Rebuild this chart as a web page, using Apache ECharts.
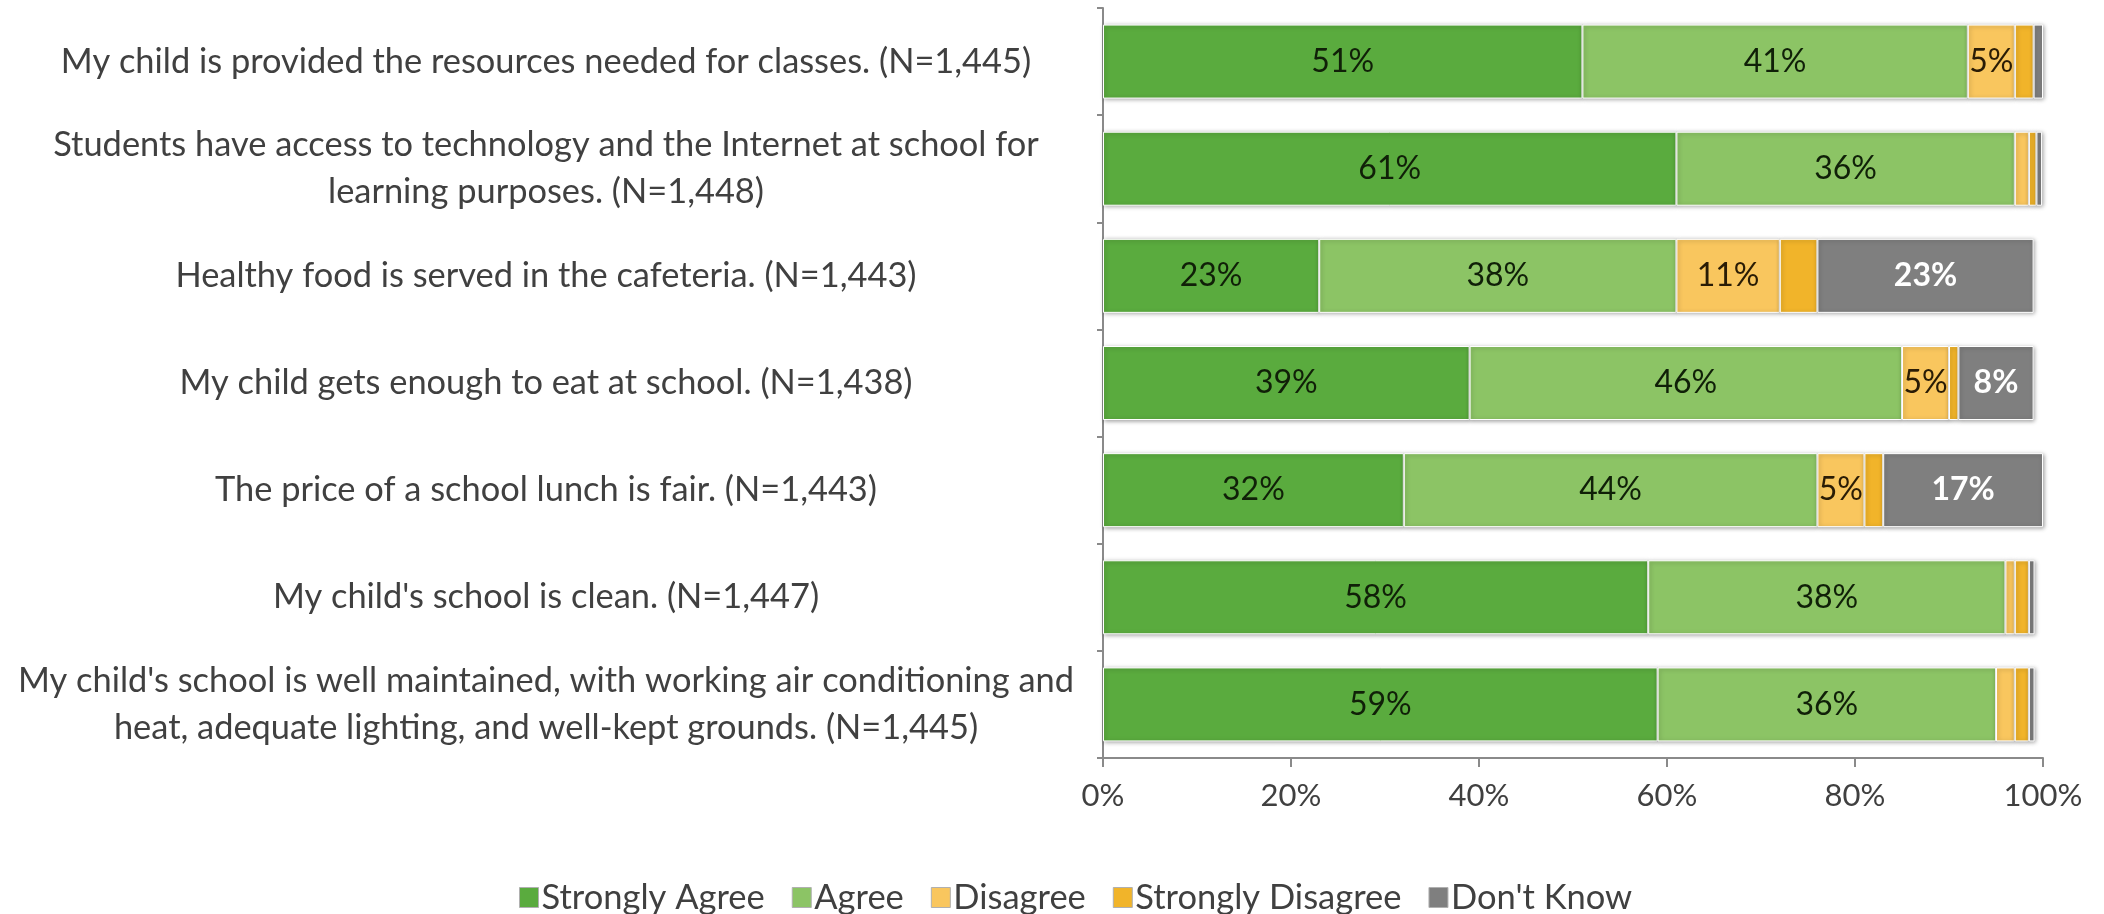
<!DOCTYPE html>
<html>
<head>
<meta charset="utf-8">
<script src="https://cdn.jsdelivr.net/npm/echarts@6/dist/echarts.min.js"></script>
<style>
html,body{margin:0;padding:0;background:#fff;}
#chart{width:2104px;height:914px;}
</style>
</head>
<body>
<div id="chart"></div>
<script>
const categories = [
  "My child is provided the resources needed for classes. (N=1,445)",
  "Students have access to technology and the Internet at school for\nlearning purposes. (N=1,448)",
  "Healthy food is served in the cafeteria. (N=1,443)",
  "My child gets enough to eat at school. (N=1,438)",
  "The price of a school lunch is fair. (N=1,443)",
  "My child's school is clean. (N=1,447)",
  "My child's school is well maintained, with working air conditioning and\nheat, adequate lighting, and well-kept grounds. (N=1,445)"
];
const seriesNames = ["Strongly Agree", "Agree", "Disagree", "Strongly Disagree", "Don't Know"];
const stronglyAgree = [51, 61, 23, 39, 32, 58, 59];
const agree = [41, 36, 38, 46, 44, 38, 36];
const disagree = [5, 1.5, 11, 5, 5, 1, 2];
const stronglyDisagree = [2, 0.8, 4, 1, 2, 1.5, 1.5];
const dontKnow = [1, 0.6, 23, 8, 17, 0.6, 0.6];
const xTicks = [0, 20, 40, 60, 80, 100];

const colors = ["#5aab3e", "#8cc465", "#f9c65e", "#f1b42a", "#7f7f7f"];
const labelColors = ["#102008", "#102008", "#2a1c05", "#2a1c05", "#ffffff"];
const dataSets = [stronglyAgree, agree, disagree, stronglyDisagree, dontKnow];
const FONT = "Lato, 'Open Sans', sans-serif";

const chart = echarts.init(document.getElementById('chart'));
const series = seriesNames.map((name, i) => ({
  name: name,
  type: 'bar',
  stack: 'total',
  barWidth: 74,
  data: dataSets[i],
  itemStyle: {
    color: colors[i],
    borderColor: '#ffffff',
    borderWidth: 1,
    shadowColor: 'rgba(0,0,0,0.35)',
    shadowBlur: 4,
    shadowOffsetX: 1,
    shadowOffsetY: 1
  },
  label: {
    show: true,
    position: 'inside',
    fontFamily: FONT,
    fontSize: 32,
    fontWeight: i === 4 ? 'bold' : 'normal',
    color: labelColors[i],
    formatter: p => (p.value >= 5 ? Math.round(p.value) + '%' : '')
  },
  emphasis: { disabled: true }
}));

chart.setOption({
  animation: false,
  backgroundColor: '#ffffff',
  grid: { left: 1103, right: 61, top: 8, bottom: 156, containLabel: false },
  xAxis: {
    type: 'value',
    min: 0, max: 100, interval: 20,
    axisLine: { show: true, lineStyle: { color: '#8a8a8a', width: 2 } },
    axisTick: { show: true, length: 9, lineStyle: { color: '#8a8a8a', width: 2 } },
    splitLine: { show: false },
    axisLabel: {
      formatter: v => (xTicks.indexOf(v) >= 0 ? v + '%' : ''),
      fontFamily: FONT, fontSize: 31, color: '#404040', margin: 22
    }
  },
  yAxis: {
    type: 'category',
    inverse: true,
    data: categories,
    axisLine: { show: true, lineStyle: { color: '#8a8a8a', width: 2 } },
    axisTick: { show: true, length: 6, lineStyle: { color: '#8a8a8a', width: 2 } },
    axisLabel: {
      align: 'center',
      margin: 557,
      fontFamily: FONT, fontSize: 34.4, color: '#404040',
      lineHeight: 47
    }
  },
  legend: {
    top: 875,
    left: 514,
    itemWidth: 19,
    itemHeight: 20,
    itemGap: 27,
    icon: 'rect',
    itemStyle: { borderColor: '#b0b0b0', borderWidth: 1 },
    textStyle: { fontFamily: FONT, fontSize: 34.5, color: '#404040', padding: [0, 0, 0, -2] },
    data: seriesNames
  },
  series: series
});
</script>
</body>
</html>
